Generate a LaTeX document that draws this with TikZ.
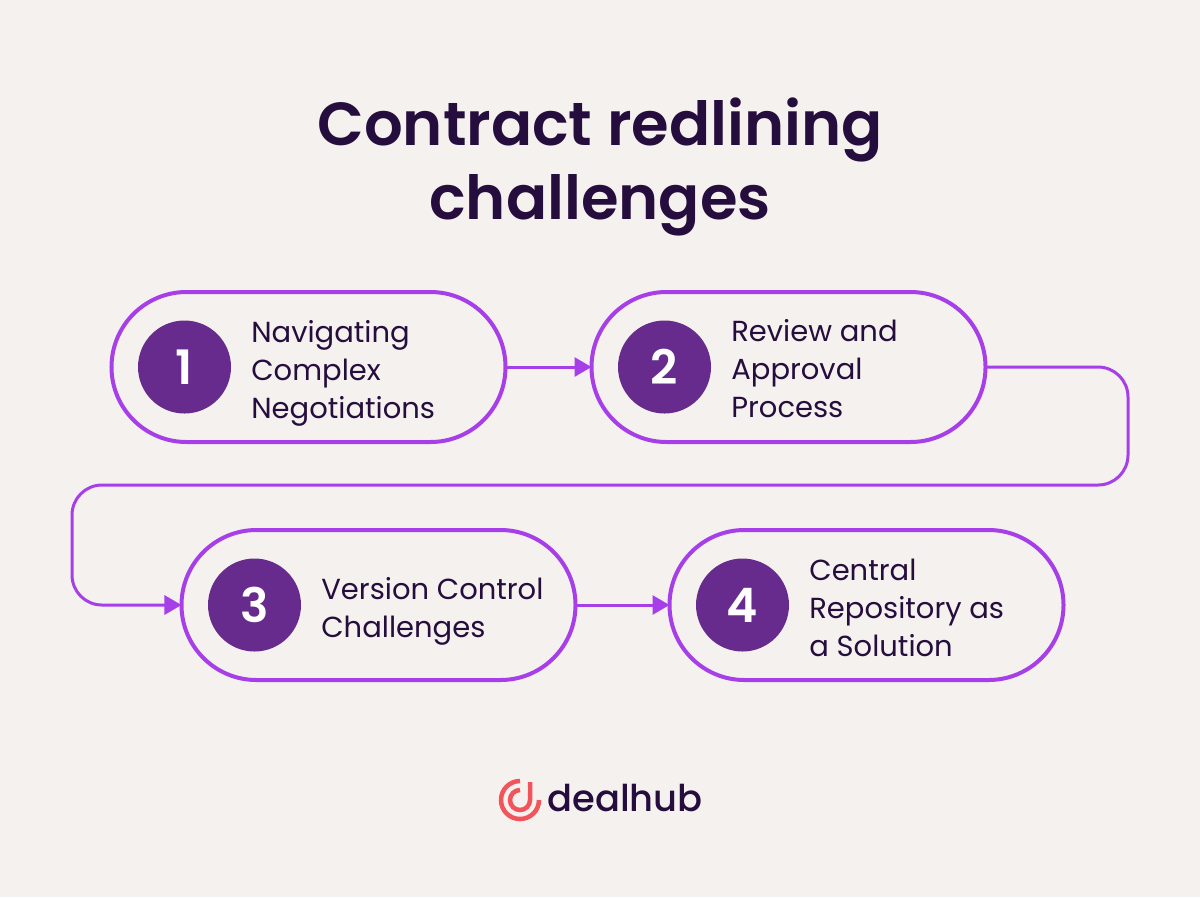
\documentclass[tikz,border=0pt]{standalone}
\usepackage{fontspec}
\usepackage{xcolor}
\usetikzlibrary{arrows.meta}
\setmainfont{Poppins}
\newfontfamily\semifont{Poppins SemiBold}
\newfontfamily\medfont{Poppins Medium}

\begin{document}
\begin{tikzpicture}[x=0.2mm,y=-0.2mm,
  stepbox/.style={rectangle,draw=violet,line width=0.08cm,rounded corners=1.5cm,minimum width=7.88cm,minimum height=3cm,outer sep=0pt},
  badge/.style={circle,fill=plum,minimum size=1.86cm,inner sep=0pt,text=white,font=\fontsize{27}{27}\semifont},
  steptext/.style={anchor=base west,align=left,inner sep=0pt,text=ink,font=\fontsize{16.5}{21.6}\selectfont},
  flow/.style={draw=violet,line width=0.06cm,-{Triangle[length=0.34cm,width=0.38cm]}},
  ring/.style={draw=coral,line width=0.09cm}]
\definecolor{paper}{RGB}{245,241,238}
\definecolor{violet}{HTML}{A63FE8}
\definecolor{plum}{HTML}{662B8C}
\definecolor{ink}{HTML}{250D3D}
\definecolor{coral}{HTML}{F2545B}
\fill[paper] (0,0) rectangle (1200,897);
\node [text=ink,align=center,font=\fontsize{34.6}{42.4}\semifont] (title) at (600,167) {Contract redlining\\challenges};
% the four steps
\foreach \idx/\xpos/\ypos in {1/308.5/367,2/788.5/367,3/378.5/605,4/866.5/605}
{ \node [stepbox] (box\idx) at (\xpos,\ypos) {};
  \node [badge] (badge\idx) at (\xpos-124,\ypos) {\idx};}
\node [steptext] (text1) at (251,418) {Navigating\\Complex\\Negotiations};
\node [steptext] (text2) at (731,417) {Review and\\Approval\\Process};
\node [steptext] (text3) at (321,637) {Version Control\\Challenges};
\node [steptext] (text4) at (809,656) {Central\\Repository as\\a Solution};
% connectors
\coordinate (turnA) at (1128,485);
\coordinate (turnB) at (72,485);
\draw [flow] (box1.east) -- (box2.west);
\draw [flow,rounded corners=0.6cm] (box2.east) -| (turnA) -- (turnB) |- (box3.west);
\draw [flow] (box3.east) -- (box4.west);
% logo
\draw [ring] (520,781) arc (270:0:19);
\draw [ring] (520,790) arc (270:0:10) -- ++(0,-18);
\node [anchor=base west,inner sep=0pt,text=ink,font=\fontsize{21}{21}\medfont] (brand) at (547,811) {dealhub};
\end{tikzpicture}
\end{document}
